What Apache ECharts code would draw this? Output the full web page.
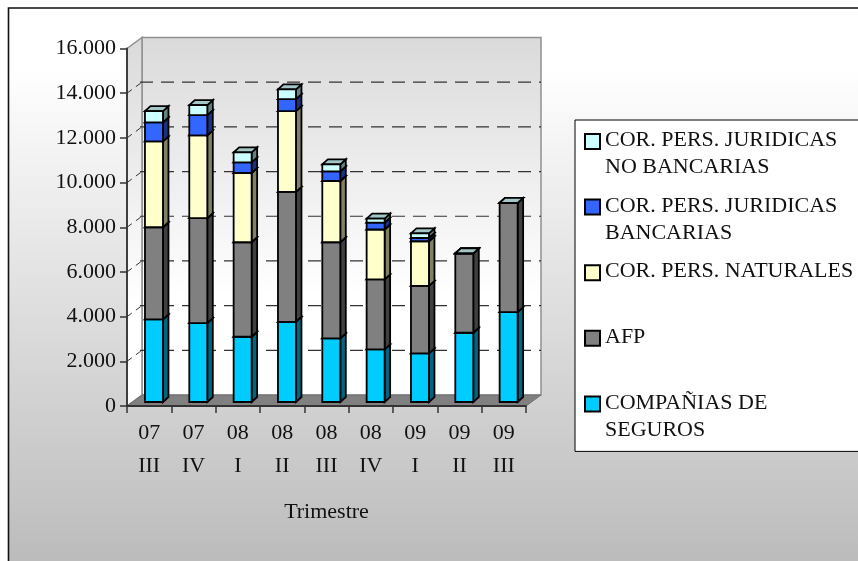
<!DOCTYPE html>
<html><head><meta charset="utf-8">
<style>html,body{margin:0;padding:0;background:#fff}#c{width:858px;height:561px}</style>
<script src="https://cdn.jsdelivr.net/npm/echarts@6/dist/echarts.min.js"></script>
</head><body><div id="c"></div>
<script>
var categories = ['07\nIII','07\nIV','08\nI','08\nII','08\nIII','08\nIV','09\nI','09\nII','09\nIII'];
var seguros   = [3700,3530,2920,3590,2850,2355,2175,3100,4020];
var afp       = [4120,4695,4230,5810,4300,3130,3020,3550,4890];
var naturales = [3845,3710,3100,3620,2740,2235,2000,0,0];
var bancarias = [850,905,475,535,435,310,145,0,0];
var noBancarias = [505,450,450,435,310,180,210,0,0];
var seriesNames = ['COMPAÑIAS DE\nSEGUROS','AFP','COR. PERS. NATURALES','COR. PERS. JURIDICAS\nBANCARIAS','COR. PERS. JURIDICAS\nNO BANCARIAS'];
var seriesValues = [seguros, afp, naturales, bancarias, noBancarias];
var frontColors = ['#00ccff','#808080','#ffffcc','#3366ff','#ccffff'];
var sideColors  = ['#006680','#404040','#808066','#1a3380','#668080'];
var topColors   = ['#33d6ff','#999999','#ffffd6','#6690ff','#a3c7c7'];

var DX = 15, DY = 11;          // depth of the 3D box
var BX = 4.8, BY = 4;          // front plane of the bars within the box
var BW = 18, BD = 5.5, BH = 5; // bar width, bar depth offsets
var FONT = '"Liberation Serif","DejaVu Serif",serif';

function poly(pts, fill, stroke, lw){
  return {type:'polygon', shape:{points:pts}, style:{fill:fill, stroke:stroke||null, lineWidth:lw||0}};
}
function frameItem(params, api){
  var g = params.coordSys, L=g.x, R=g.x+g.width, T=g.y, B=g.y+g.height;
  var wall = {type:'linear',x:0,y:0,x2:0,y2:1,colorStops:[{offset:0,color:'#dadada'},{offset:0.72,color:'#ffffff'},{offset:1,color:'#ffffff'}]};
  var kids = [
    poly([[L+DX,T-DY],[R+DX,T-DY],[R+DX,B-DY],[L+DX,B-DY]], wall, '#909090', 1.5),
    poly([[L,T],[L+DX,T-DY],[L+DX,B-DY],[L,B]], wall, '#909090', 1.5),
    poly([[L,B],[L+DX,B-DY],[R+DX,B-DY],[R,B]], '#808080', '#707070', 1)
  ];
  for (var v=2000; v<=14000; v+=2000){
    var y = api.coord([0,v])[1];
    kids.push({type:'line', shape:{x1:L+DX-2,y1:y-DY,x2:R+DX,y2:y-DY}, style:{stroke:'#333',lineWidth:1.2,lineDash:[13,8]}});
    kids.push({type:'line', shape:{x1:L,y1:y,x2:L+DX,y2:y-DY}, style:{stroke:'#333',lineWidth:1,lineDash:[6,5]}});
  }
  return {type:'group', children:kids};
}
function barItem(idx){
  return function(params, api){
    var c0 = api.coord([api.value(0), api.value(1)]);
    var c1 = api.coord([api.value(0), api.value(2)]);
    var x0 = c0[0]+BX-BW/2, x1 = x0+BW, yb = c0[1]-BY, yt = c1[1]-BY;
    var st = '#000', lw = 1.8;
    return {type:'group', children:[
      poly([[x1,yb],[x1+BD,yb-BH],[x1+BD,yt-BH],[x1,yt]], sideColors[idx], st, lw),
      poly([[x0,yt],[x1,yt],[x1+BD,yt-BH],[x0+BD,yt-BH]], topColors[idx], st, lw),
      poly([[x0,yb],[x1,yb],[x1,yt],[x0,yt]], frontColors[idx], st, lw)
    ]};
  };
}
var stack = categories.map(function(){return 0;});
var series = [{type:'custom', name:'frame', silent:true, z:-5, data:[[0,0]], renderItem:frameItem, encode:{x:0,y:1}}];
seriesValues.forEach(function(vals, idx){
  var rows = vals.map(function(v,i){var s=stack[i]; stack[i]=s+v; return [i,s,s+v];});
  series.push({type:'custom', name:seriesNames[idx], z:2+idx, data:rows, renderItem:barItem(idx), encode:{x:0,y:[1,2]}});
});

var chart = echarts.init(document.getElementById('c'), null, {renderer:'canvas'});
chart.setOption({
  animation:false,
  backgroundColor:'#ffffff',
  graphic:[{type:'rect', z:-100, shape:{x:8.5,y:8,width:870,height:580},
    style:{fill:{type:'linear',x:0,y:0,x2:0,y2:1,colorStops:[{offset:0,color:'#ffffff'},{offset:0.1,color:'#ffffff'},{offset:1,color:'#b8b8b8'}]},stroke:'#111',lineWidth:1.6}}],
  grid:{left:127, top:48.5, width:399, height:357.5},
  xAxis:{type:'category', data:categories, name:'Trimestre', nameLocation:'middle', nameGap:95,
    nameTextStyle:{fontFamily:FONT,fontSize:22,color:'#111'},
    axisLine:{lineStyle:{color:'#333',width:1.8}},
    axisTick:{show:true,length:7,alignWithLabel:false,lineStyle:{color:'#333',width:1.5}},
    axisLabel:{fontFamily:FONT,fontSize:22,color:'#111',lineHeight:33,margin:11,interval:0},
    splitLine:{show:false}},
  yAxis:{type:'value', min:0, max:16000, interval:2000,
    axisLine:{show:true,lineStyle:{color:'#333',width:1.8}},
    axisTick:{show:true,length:7,lineStyle:{color:'#333',width:1.5}},
    axisLabel:{fontFamily:FONT,fontSize:22,color:'#111',margin:11,
      formatter:function(v){return String(v).replace(/(\d)(\d{3})$/,'$1.$2');}},
    splitLine:{show:false}},
  legend:{orient:'vertical', left:575, top:120, z:20, itemGap:9.6, itemWidth:15, itemHeight:54,
    padding:[6,40,7,9], backgroundColor:'#ffffff', borderColor:'#000', borderWidth:1,
    icon:'path://M0 0M0 7H15V22H0Z M0 54', selectedMode:false, align:'left',
    data:seriesNames.slice().reverse().map(function(n){
      var i=seriesNames.indexOf(n);
      return {name:n, itemStyle:{color:frontColors[i],borderColor:'#000',borderWidth:2}};
    }),
    formatter:function(n){return n.indexOf('\n')<0 ? n+'\n ' : n;},
    textStyle:{fontFamily:FONT,fontSize:22,lineHeight:27,color:'#111'}},
  series:series
});
</script></body></html>
